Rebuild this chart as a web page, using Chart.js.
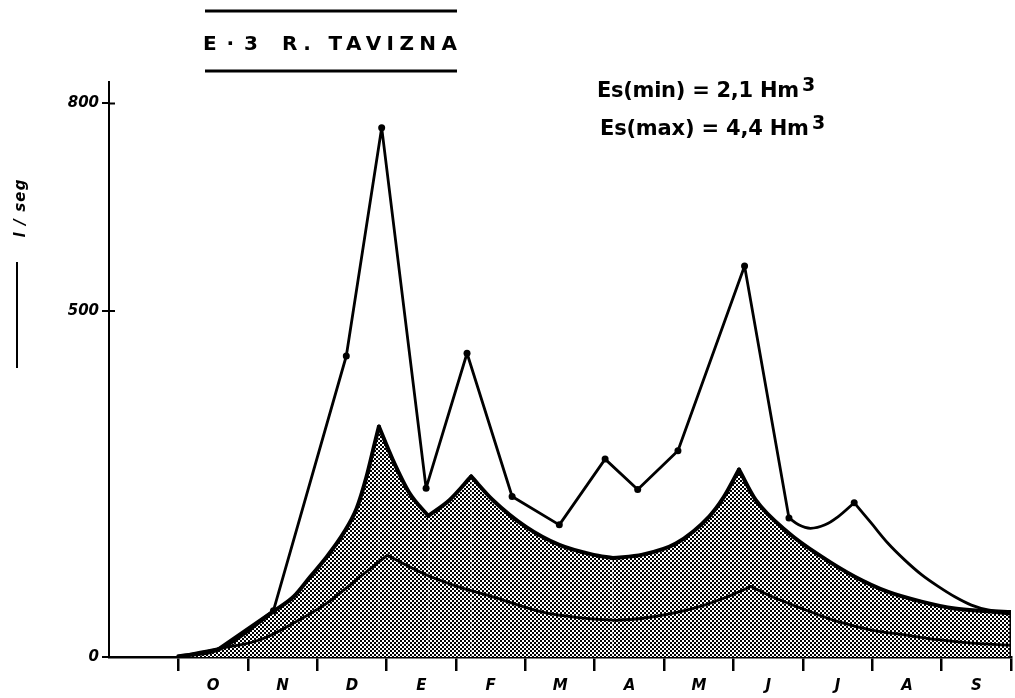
<!DOCTYPE html>
<html>
<head>
<meta charset="utf-8">
<script src="https://cdn.jsdelivr.net/npm/chart.js@4/dist/chart.umd.min.js"></script>
<style>
  html, body { margin: 0; padding: 0; background: #fff; }
  #wrap { width: 1015px; height: 698px; position: relative; }
</style>
</head>
<body>
<div id="wrap"><canvas id="chart" width="1015" height="698"></canvas></div>
<script>
// Hydrological year, October to September
const months = ['O', 'N', 'D', 'E', 'F', 'M', 'A', 'M', 'J', 'J', 'A', 'S'];
const yTickValues = [0, 500, 800];
const yMax = 831;

// Gauged discharges (l/seg); x = months elapsed since 1 October
const gaugedX = [0, 0.56, 1.37, 2.42, 2.93, 3.57, 4.16, 4.81, 5.49, 6.15, 6.62, 7.20, 8.16, 8.80];
const gaugedQ = [0, 11, 67, 435, 765, 244, 439, 232, 191, 286, 242, 298, 565, 201];
const gaugedDots = [0, 0, 3.5, 3.5, 3.5, 3.5, 3.5, 3.5, 3.5, 3.5, 3.5, 3.5, 3.5, 3.5];

// Summer stretch of the gauged hydrograph
const summerX = [8.80, 8.94, 9.11, 9.32, 9.51, 9.74];
const summerQ = [201, 191, 186, 191, 203, 223];
const recessX = [9.74, 9.99, 10.23, 10.47, 10.71, 10.95, 11.19, 11.43, 11.67, 12.0];
const recessQ = [223, 193, 164, 140, 119, 102, 87, 75, 68, 66];

// Upper envelope (shaded), one stretch per rise / recession
const maxX1 = [0, 0.58, 1.37, 1.66, 1.90, 2.14, 2.38, 2.57, 2.71, 2.83, 2.89];
const maxQ1 = [1, 11, 66, 87, 116, 145, 179, 215, 260, 309, 333];
const maxX2 = [2.89, 3.09, 3.33, 3.60];
const maxQ2 = [333, 285, 237, 204];
const maxX3 = [3.60, 3.91, 4.22];
const maxQ3 = [204, 227, 261];
const maxX4 = [4.22, 4.53, 5.01, 5.49, 5.97, 6.26];
const maxQ4 = [261, 227, 188, 162, 148, 143];
const maxX5 = [6.26, 6.69, 7.17, 7.65, 7.86, 8.08];
const maxQ5 = [143, 148, 164, 203, 231, 271];
const maxX6 = [8.08, 8.32, 8.80, 9.27, 9.75, 10.23, 10.71, 11.19, 11.67, 12.0];
const maxQ6 = [271, 227, 179, 145, 116, 94, 80, 70, 66, 63];

// Lower envelope
const minX1 = [0, 0.58, 1.18, 1.66, 2.14, 2.62, 3.01];
const minQ1 = [1, 12, 25, 49, 78, 116, 147];
const minX2 = [3.01, 3.57, 4.05, 4.53, 5.25, 5.97, 6.31];
const minQ2 = [147, 119, 101, 87, 65, 55, 53];
const minX3 = [6.31, 6.69, 7.41, 7.86, 8.25];
const minQ3 = [53, 56, 70, 85, 102];
const minX4 = [8.25, 8.56, 9.04, 9.51, 9.99, 10.47, 10.95, 11.43, 12.0];
const minQ4 = [102, 87, 68, 51, 39, 32, 25, 20, 17];

// Closing edge of the shaded band at the end of September
const edgeX = [12, 12];
const edgeQ = [0, 63];

const pts = (xs, ys) => xs.map((x, i) => ({ x, y: ys[i] }));

// Halftone screen for the shaded band
function halftone() {
  const t = document.createElement('canvas');
  t.width = 4; t.height = 4;
  const c = t.getContext('2d');
  c.fillStyle = '#fff';
  c.fillRect(0, 0, 4, 4);
  c.fillStyle = '#000';
  c.fillRect(0, 0, 2, 2);
  c.fillRect(2, 2, 2, 2);
  return document.getElementById('chart').getContext('2d').createPattern(t, 'repeat');
}
const screen = halftone();

const ink = '#000';
const curve = (xs, ys, width, extra) => Object.assign({
  data: pts(xs, ys),
  borderColor: ink,
  borderWidth: width,
  borderCapStyle: 'round',
  borderJoinStyle: 'round',
  cubicInterpolationMode: 'monotone',
  pointRadius: 0,
  fill: false
}, extra || {});

const shaded = (xs, ys) => curve(xs, ys, 4, { fill: 'origin', backgroundColor: screen });

const datasets = [
  curve(gaugedX, gaugedQ, 2.8, {
    cubicInterpolationMode: 'default', tension: 0,
    pointRadius: gaugedDots, pointBackgroundColor: ink, pointBorderWidth: 0
  }),
  curve(summerX, summerQ, 2.8),
  curve(recessX, recessQ, 2.8, {
    pointRadius: recessX.map((_, i) => i === 0 ? 3.5 : 0),
    pointBackgroundColor: ink, pointBorderWidth: 0
  }),
  shaded(maxX1, maxQ1),
  shaded(maxX2, maxQ2),
  shaded(maxX3, maxQ3),
  shaded(maxX4, maxQ4),
  shaded(maxX5, maxQ5),
  shaded(maxX6, maxQ6),
  curve(minX1, minQ1, 2.8),
  curve(minX2, minQ2, 2.8),
  curve(minX3, minQ3, 2.8),
  curve(minX4, minQ4, 2.8),
  curve(edgeX, edgeQ, 3, { cubicInterpolationMode: 'default', tension: 0 })
];

// Set a string's letter spacing so that it spans the given width
function spread(ctx, text, width) {
  ctx.letterSpacing = '0px';
  const w = ctx.measureText(text).width;
  const n = [...text].length;
  if (n > 1) ctx.letterSpacing = ((width - w) / (n - 1)).toFixed(2) + 'px';
}

const headings = {
  id: 'headings',
  afterDraw(chart) {
    const ctx = chart.ctx;
    const yScale = chart.scales.y;
    const left = chart.chartArea.left;
    ctx.save();
    ctx.fillStyle = ink;
    ctx.strokeStyle = ink;
    ctx.textBaseline = 'alphabetic';
    ctx.textAlign = 'left';

    // Inner half of the value-axis tick marks
    ctx.lineWidth = 2;
    ctx.beginPath();
    yTickValues.filter(v => v > 0).forEach(v => {
      const py = yScale.getPixelForValue(v);
      ctx.moveTo(left, py); ctx.lineTo(left + 6, py);
    });
    ctx.stroke();

    // Station title between two rules
    ctx.lineWidth = 3;
    ctx.beginPath();
    ctx.moveTo(205, 11); ctx.lineTo(457, 11);
    ctx.moveTo(205, 71); ctx.lineTo(457, 71);
    ctx.stroke();
    ctx.font = 'bold 20px "DejaVu Sans"';
    spread(ctx, 'E·3', 55);
    ctx.fillText('E·3', 203, 50);
    spread(ctx, 'R. TAVIZNA', 175);
    ctx.fillText('R. TAVIZNA', 282, 50);

    // Storage estimates
    const esLines = [
      { text: 'Es(min) = 2,1 Hm', x: 597, w: 202, y: 97 },
      { text: 'Es(max) = 4,4 Hm', x: 600, w: 209, y: 135 }
    ];
    esLines.forEach(l => {
      ctx.font = 'bold 21px "DejaVu Sans"';
      spread(ctx, l.text, l.w);
      ctx.fillText(l.text, l.x, l.y);
      ctx.letterSpacing = '0px';
      ctx.font = 'bold 19px "DejaVu Sans"';
      ctx.fillText('3', l.x + l.w + 3, l.y - 6);
    });

    // Unit label on the value axis
    ctx.save();
    ctx.translate(21, 208);
    ctx.rotate(-Math.PI / 2);
    ctx.textAlign = 'center';
    ctx.textBaseline = 'middle';
    ctx.font = 'bold italic 15px "DejaVu Sans"';
    spread(ctx, 'l / seg', 58);
    ctx.fillText('l / seg', 0, 0);
    ctx.restore();
    ctx.lineWidth = 2;
    ctx.beginPath();
    ctx.moveTo(17, 262); ctx.lineTo(17, 368);
    ctx.stroke();

    ctx.restore();
  }
};

new Chart(document.getElementById('chart'), {
  type: 'line',
  data: { datasets },
  options: {
    responsive: false,
    animation: false,
    devicePixelRatio: 1,
    layout: { padding: { top: 82, right: 0, left: 0, bottom: 0 } },
    plugins: {
      legend: { display: false },
      tooltip: { enabled: false },
      filler: { drawTime: 'beforeDatasetsDraw' }
    },
    scales: {
      x: {
        type: 'linear',
        min: -1,
        max: 12,
        afterFit: s => { s.height = 41; s.paddingLeft = 0; s.paddingRight = 0; },
        border: { display: true, color: ink, width: 2.5 },
        grid: {
          drawOnChartArea: false,
          drawTicks: true,
          tickLength: 14,
          lineWidth: 2.5,
          color: c => (c.tick && c.tick.value === -1) ? 'rgba(0,0,0,0)' : ink
        },
        ticks: {
          stepSize: 1,
          autoSkip: false,
          maxRotation: 0,
          labelOffset: 34.8,
          padding: 6,
          color: ink,
          font: { family: 'DejaVu Sans', size: 15, style: 'italic', weight: 'bold' },
          callback: v => months[v] !== undefined ? months[v] : ''
        }
      },
      y: {
        type: 'linear',
        min: 0,
        max: yMax,
        afterFit: s => { s.width = 109; },
        afterBuildTicks: s => { s.ticks = yTickValues.map(v => ({ value: v })); },
        border: { display: true, color: ink, width: 2 },
        grid: {
          drawOnChartArea: false,
          drawTicks: true,
          tickLength: 7,
          lineWidth: 2,
          color: ink
        },
        ticks: {
          padding: 3,
          color: ink,
          font: { family: 'DejaVu Sans', size: 15, style: 'italic', weight: 'bold' },
          callback: v => String(v)
        }
      }
    }
  },
  plugins: [headings]
});
</script>
</body>
</html>
